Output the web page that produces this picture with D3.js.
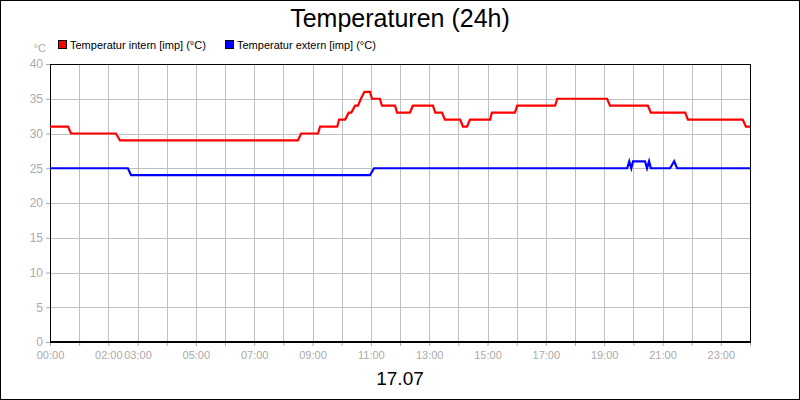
<!DOCTYPE html><html><head><meta charset="utf-8">
<script src="https://cdn.jsdelivr.net/npm/d3@7"></script>
<style>body{margin:0}svg{display:block}text{font-family:"Liberation Sans",Arial,sans-serif}</style></head><body>
<svg id="c" width="800" height="400"></svg>
<script>
const seriesNames=["Temperatur intern [imp] (°C)","Temperatur extern [imp] (°C)"];
const seriesColors=["#ff0000","#0000ff"];
const internT=[0,0.62,0.72,2.26,2.40,8.50,8.61,9.19,9.26,9.85,9.91,10.12,10.24,10.33,10.46,10.56,10.66,10.78,10.97,11.04,11.31,11.38,11.83,11.90,12.34,12.44,13.13,13.21,13.44,13.54,14.06,14.16,14.30,14.40,15.09,15.15,15.94,16.02,17.32,17.39,19.10,19.20,20.50,20.60,21.78,21.87,23.75,23.86,24];
const internV=[31,31,30,30,29,29,30,30,31,31,32,32,33,33,34,34,35,36,36,35,35,34,34,33,33,34,34,33,33,32,32,31,31,32,32,33,33,34,34,35,35,34,34,33,33,32,32,31,31];
const externT=[0,2.67,2.78,10.97,11.11,19.79,19.86,19.93,19.99,20.40,20.47,20.54,20.60,21.26,21.40,21.50,24];
const externV=[25,25,24,24,25,25,26,25,26,26,25,26,25,25,26,25,25];
const yTicks=[0,5,10,15,20,25,30,35,40];
const xLabelHours=[0,2,3,5,7,9,11,13,15,17,19,21,23];
const svg=d3.select("#c");
const L=50,R=750,T=64,B=342;
const x=d3.scaleLinear().domain([0,24]).range([L,R]);
const y=d3.scaleLinear().domain([0,40]).range([B,T]);
svg.append("rect").attr("x",0.5).attr("y",0.5).attr("width",799).attr("height",399).attr("fill","#fff").attr("stroke","#000");
const hours=d3.range(1,24);
svg.append("g").selectAll("line").data(hours).join("line").attr("x1",d=>Math.round(x(d))+.5).attr("x2",d=>Math.round(x(d))+.5).attr("y1",T).attr("y2",B).attr("stroke","#c0c0c0");
svg.append("g").selectAll("line").data(yTicks.slice(1,-1)).join("line").attr("x1",L).attr("x2",R).attr("y1",d=>Math.round(y(d))+.5).attr("y2",d=>Math.round(y(d))+.5).attr("stroke","#c0c0c0");
const ya=svg.append("g").attr("transform",`translate(${L},0)`).call(d3.axisLeft(y).tickValues(yTicks).tickSize(4).tickFormat(d3.format("d")));
ya.select(".domain").remove();
ya.selectAll("line").attr("stroke","#aaa");
ya.selectAll("text").attr("fill","#aaa").style("font-size","12px");
const xa=svg.append("g").attr("transform",`translate(0,${B})`).call(d3.axisBottom(x).tickValues(d3.range(0,25)).tickSize(4).tickFormat(d=>xLabelHours.includes(d)?String(d).padStart(2,"0")+":00":""));
xa.select(".domain").remove();
xa.selectAll("line").attr("stroke","#aaa");
xa.selectAll("text").attr("fill","#aaa").style("font-size","11px").attr("dy","0.9em");
svg.append("rect").attr("x",L+.5).attr("y",T+.5).attr("width",R-L).attr("height",B-T).attr("fill","none").attr("stroke","#000");
svg.append("line").attr("x1",L).attr("x2",R).attr("y1",B).attr("y2",B).attr("stroke","#000").attr("stroke-width",2);
const line=d3.line().x(d=>x(d[0])).y(d=>y(d[1]));
[[internT,internV],[externT,externV]].forEach((s,i)=>{
 svg.append("path").datum(d3.zip(s[0],s[1])).attr("d",line).attr("fill","none").attr("stroke",seriesColors[i]).attr("stroke-width",2.2);
});
svg.append("text").attr("x",400).attr("y",27).attr("text-anchor","middle").style("font-size","25px").text("Temperaturen (24h)");
svg.append("text").attr("x",400).attr("y",385).attr("text-anchor","middle").style("font-size","19px").text("17.07");
svg.append("text").attr("x",46).attr("y",52).attr("text-anchor","end").attr("fill","#aaa").style("font-size","11px").text("°C");
const lx=[58,225];
seriesNames.forEach((n,i)=>{
 svg.append("rect").attr("x",lx[i]+.5).attr("y",40.5).attr("width",8).attr("height",8).attr("fill",seriesColors[i]).attr("stroke","#000");
 svg.append("text").attr("x",lx[i]+12).attr("y",49).style("font-size","11px").text(n);
});
</script></body></html>
